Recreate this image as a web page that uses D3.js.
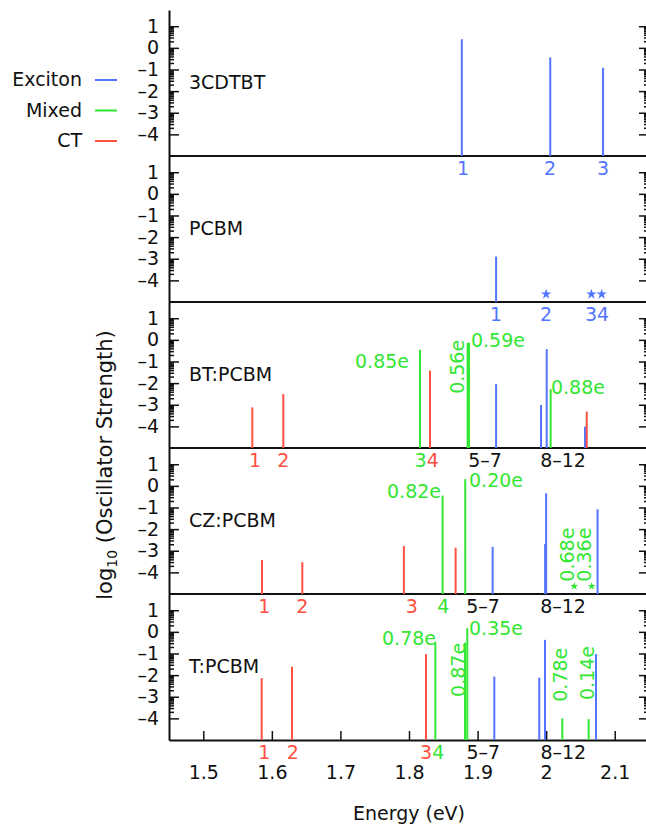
<!DOCTYPE html>
<html><head><meta charset="utf-8">
<script src="https://cdn.jsdelivr.net/npm/d3@7"></script>
<style>body{margin:0;background:#fff}svg{display:block}text{font-family:"DejaVu Sans",sans-serif}</style>
</head><body><svg id="c" width="646" height="828"></svg>
<script>
// ---------- data ----------
const panelNames = ["3CDTBT","PCBM","BT:PCBM","CZ:PCBM","T:PCBM"];
const xTicks = [1.5,1.6,1.7,1.8,1.9,2.0,2.1];
const xTickLabels = ["1.5","1.6","1.7","1.8","1.9","2","2.1"];
const yTicks = [1,0,-1,-2,-3,-4];
const yTickLabels = ["1","0","–1","–2","–3","–4"];
const legendNames = ["Exciton","Mixed","CT"];
const legendTypes = ["X","M","C"];

// states: energy (eV), log10 oscillator strength, type (X exciton, M mixed, C CT)
const cdtbtE = [1.877, 2.006, 2.083];
const cdtbtF = [0.40, -0.44, -0.92];
const cdtbtT = ["X","X","X"];
const pcbmE = [1.927];
const pcbmF = [-2.9];
const pcbmT = ["X"];
const btE = [1.5715, 1.6167, 1.816, 1.8306, 1.8855, 1.8875, 1.927, 1.9925, 2.0008, 2.0066, 2.0567, 2.0592];
const btF = [-3.12, -2.51, -0.46, -1.42, -0.15, -0.12, -2.05, -3.01, -0.43, -2.28, -4.01, -3.32];
const btT = ["C","C","M","C","M","M","X","X","X","M","X","C"];
const czE = [1.5856, 1.6444, 1.7925, 1.849, 1.868, 1.882, 1.922, 1.9985, 2.0, 2.075];
const czF = [-3.43, -3.53, -2.78, -0.45, -2.86, 0.31, -2.82, -2.69, -0.34, -1.08];
const czT = ["C","C","C","M","C","M","X","X","X","X"];
const tE = [1.5852, 1.6294, 1.8248, 1.8384, 1.8817, 1.885, 1.9244, 1.99, 1.9983, 2.0236, 2.062, 2.0727];
const tF = [-2.14, -1.61, -1.03, -0.45, -0.5, 0.17, -2.07, -2.12, -0.37, -4.0, -4.04, -1.03];
const tT = ["C","C","C","M","M","M","X","X","X","M","M","X"];

// states below the plotted range (marked with stars)
const pcbmStarE = [2.0, 2.066, 2.081];
const pcbmStarT = ["X","X","X"];
const czStarE = [2.041, 2.0665];
const czStarT = ["M","M"];

// state-number labels under each panel (type per character when several)
const cdtbtLab = ["1","2","3"], cdtbtLabE = [1.8788, 2.0056, 2.083], cdtbtLabT = ["X","X","X"];
const pcbmLab = ["1","2","34"], pcbmLabE = [1.927, 2.0, 2.0742], pcbmLabT = ["X","X","X"];
const btLab = ["1","2","34","5–7","8–12"], btLabE = [1.5755, 1.6167, 1.8258, 1.9108, 2.0246], btLabT = ["C","C","MC","K","K"];
const czLab = ["1","2","3","4","5–7","8–12"], czLabE = [1.589, 1.6444, 1.804, 1.85, 1.908, 2.0246], czLabT = ["C","C","C","M","K","K"];
const tLab = ["1","2","34","5–7","8–12"], tLabE = [1.589, 1.6304, 1.8338, 1.9084, 2.025], tLabT = ["C","C","CM","K","K"];

// charge-transfer annotations (text, anchor energy, anchor log f, rotated?, text-anchor)
const btNote = ["0.85e","0.59e","0.56e","0.88e"], btNoteE = [1.80, 1.8904, 1.8795, 2.007], btNoteF = [-1.30, -0.32, 0.0, -2.5], btNoteR = [0,0,1,0], btNoteA = ["end","start","end","start"];
const czNote = ["0.82e","0.20e","0.68e","0.36e"], czNoteE = [1.8467, 1.8875, 2.0406, 2.0654], czNoteF = [-0.56, -0.07, -4.43, -4.43], czNoteR = [0,0,1,1], czNoteA = ["end","start","start","start"];
const tNote = ["0.78e","0.35e","0.87e","0.78e","0.14e"], tNoteE = [1.8394, 1.8875, 1.8812, 2.0304, 2.0694], tNoteF = [-0.60, -0.14, -0.51, -3.23, -3.15], tNoteR = [0,0,1,1,1], tNoteA = ["end","start","end","start","start"];

// ---------- layout ----------
const typeColor = {X:"#5275ff", M:"#33e633", C:"#ff5040", K:"#111"};
const FS = 19;
const left = 169, right = 649, top0 = 10, ph = 146;
const xDomain = [1.45, 2.15], yDomain = [-5, 1.75];
const x = d3.scaleLinear().domain(xDomain).range([left, right]);

const panels = [
  {name: panelNames[0], E: cdtbtE, F: cdtbtF, T: cdtbtT, lab: cdtbtLab, labE: cdtbtLabE, labT: cdtbtLabT, starE: [], starT: [], note: [], noteE: [], noteF: [], noteR: [], noteA: []},
  {name: panelNames[1], E: pcbmE, F: pcbmF, T: pcbmT, lab: pcbmLab, labE: pcbmLabE, labT: pcbmLabT, starE: pcbmStarE, starT: pcbmStarT, note: [], noteE: [], noteF: [], noteR: [], noteA: []},
  {name: panelNames[2], E: btE, F: btF, T: btT, lab: btLab, labE: btLabE, labT: btLabT, starE: [], starT: [], note: btNote, noteE: btNoteE, noteF: btNoteF, noteR: btNoteR, noteA: btNoteA},
  {name: panelNames[3], E: czE, F: czF, T: czT, lab: czLab, labE: czLabE, labT: czLabT, starE: czStarE, starT: czStarT, note: czNote, noteE: czNoteE, noteF: czNoteF, noteR: czNoteR, noteA: czNoteA},
  {name: panelNames[4], E: tE, F: tF, T: tT, lab: tLab, labE: tLabE, labT: tLabT, starE: [], starT: [], note: tNote, noteE: tNoteE, noteF: tNoteF, noteR: tNoteR, noteA: tNoteA}
];

const minorTicks = [];
for (let n = 1; n >= -3; n--) for (let k = 2; k <= 9; k++) minorTicks.push(n - 1 + Math.log10(k));

const svg = d3.select("#c");

function styleAxis(g) {
  g.attr("font-family", "DejaVu Sans, sans-serif").attr("font-size", FS);
  g.select(".domain").attr("stroke", "#111").attr("stroke-width", 2);
  g.selectAll(".tick line").attr("stroke", "#111").attr("stroke-width", 1.5);
  g.selectAll(".tick text").attr("fill", "#111");
}

panels.forEach((p, i) => {
  const t = top0 + i * ph, b = t + ph;
  const y = d3.scaleLinear().domain(yDomain).range([b, t]);
  const g = svg.append("g");

  // left axis
  g.append("g").attr("transform", `translate(${left},0)`)
    .call(d3.axisLeft(y).tickValues(yTicks).tickFormat(d => yTickLabels[yTicks.indexOf(d)])
      .tickSizeInner(-10).tickSizeOuter(0).tickPadding(10))
    .call(styleAxis);
  g.append("g").attr("transform", `translate(${left},0)`)
    .call(d3.axisLeft(y).tickValues(minorTicks).tickFormat("").tickSizeInner(-5).tickSizeOuter(0))
    .call(styleAxis).call(s => s.select(".domain").remove());
  // right axis
  g.append("g").attr("transform", `translate(${right},0)`)
    .call(d3.axisRight(y).tickValues(yTicks).tickFormat("").tickSizeInner(-10).tickSizeOuter(0))
    .call(styleAxis);
  g.append("g").attr("transform", `translate(${right},0)`)
    .call(d3.axisRight(y).tickValues(minorTicks).tickFormat("").tickSizeInner(-5).tickSizeOuter(0))
    .call(styleAxis).call(s => s.select(".domain").remove());

  // bottom separator / x axis
  if (i < panels.length - 1) {
    g.append("line").attr("x1", left).attr("x2", right).attr("y1", b).attr("y2", b)
      .attr("stroke", "#111").attr("stroke-width", 2);
  } else {
    g.append("g").attr("transform", `translate(0,${b})`)
      .call(d3.axisBottom(x).tickValues(xTicks).tickFormat(d => xTickLabels[xTicks.indexOf(d)])
        .tickSizeInner(-9).tickSizeOuter(0).tickPadding(25.5))
      .call(styleAxis);
  }

  // panel name
  g.append("text").attr("x", left + 20).attr("y", t + 79).attr("font-size", FS).attr("fill", "#111").text(p.name);

  // state lines
  g.selectAll("line.state").data(p.E.map((e, j) => ({e, f: p.F[j], t: p.T[j]}))).join("line")
    .attr("class", "state")
    .attr("x1", d => x(d.e)).attr("x2", d => x(d.e))
    .attr("y1", y(yDomain[0])).attr("y2", d => y(d.f))
    .attr("stroke", d => typeColor[d.t]).attr("stroke-width", 2);

  // stars for states below range
  g.selectAll("path.star").data(p.starE.map((e, j) => ({e, t: p.starT[j]}))).join("path")
    .attr("class", "star")
    .attr("d", d => d3.symbol(d3.symbolStar, d.t === "M" ? 20 : 34)())
    .attr("transform", d => `translate(${x(d.e)},${y(-4.64)})`)
    .attr("fill", d => typeColor[d.t]);

  // state labels below panel
  p.lab.forEach((s, j) => {
    const ty = p.labT[j];
    const txt = g.append("text").attr("x", x(p.labE[j])).attr("y", b + 19)
      .attr("text-anchor", "middle").attr("font-size", FS);
    if (ty.length > 1 && ty.length === s.length) {
      [...s].forEach((ch, k) => txt.append("tspan").attr("fill", typeColor[ty[k]]).text(ch));
    } else {
      txt.attr("fill", typeColor[ty[0]]).text(s);
    }
  });

  // charge annotations
  g.selectAll("text.note").data(p.note.map((s, j) => ({s, e: p.noteE[j], f: p.noteF[j], r: p.noteR[j], a: p.noteA[j]}))).join("text")
    .attr("class", "note")
    .attr("transform", d => `translate(${x(d.e)},${y(d.f)})` + (d.r ? " rotate(-90)" : ""))
    .attr("text-anchor", d => d.a).attr("font-size", FS)
    .attr("fill", typeColor.M).text(d => d.s);
});

// legend
const legY = [80, 110.5, 141];
legendNames.forEach((n, j) => {
  svg.append("text").attr("x", 82).attr("y", legY[j] + 6).attr("text-anchor", "end")
    .attr("font-size", FS).attr("fill", "#111").text(n);
  svg.append("line").attr("x1", 95).attr("x2", 117).attr("y1", legY[j]).attr("y2", legY[j])
    .attr("stroke", typeColor[legendTypes[j]]).attr("stroke-width", 2);
});

// axis titles
const yt = svg.append("text").attr("transform", "translate(112,465) rotate(-90)")
  .attr("text-anchor", "middle").attr("font-size", 21).attr("fill", "#111");
yt.append("tspan").text("log");
yt.append("tspan").attr("font-size", 14).attr("dy", 5).text("10");
yt.append("tspan").attr("dy", -5).text(" (Oscillator Strength)");

svg.append("text").attr("x", (left + right) / 2).attr("y", 820).attr("text-anchor", "middle")
  .attr("font-size", FS).attr("fill", "#111").text("Energy (eV)");
</script></body></html>
